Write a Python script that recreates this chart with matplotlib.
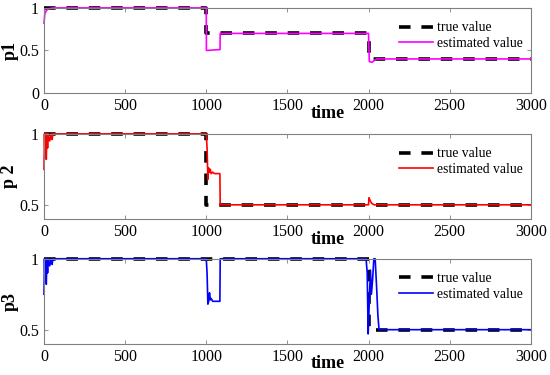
import matplotlib
matplotlib.use("Agg")
import matplotlib.pyplot as plt

plt.rcParams['font.family'] = ['Liberation Serif', 'DejaVu Serif']

# --- datos ---
true1_t = [0, 1000, 1000, 2000, 2000, 3000]
true1_v = [1.0, 1.0, 0.7, 0.7, 0.4, 0.4]
est1_t = [0, 5, 15, 30, 60, 1000, 1001, 1085, 1086, 2000, 2005, 2020, 2035, 2050, 3000]
est1_v = [0.82, 0.93, 0.97, 0.99, 1.0, 1.0, 0.5, 0.51, 0.7, 0.7, 0.37, 0.36, 0.38, 0.4, 0.4]

true2_t = [0, 1000, 1000, 3000]
true2_v = [1.0, 1.0, 0.5, 0.5]
est2_t = [0, 3, 6, 10, 14, 18, 22, 26, 35, 45, 50, 55, 60, 1000, 1005, 1010,
          1015, 1020, 1025, 1030, 1040, 1050, 1060, 1084, 1086, 1995, 2000,
          2003, 2010, 2020, 2035, 3000]
est2_v = [0.75, 1.0, 0.85, 1.0, 0.82, 1.0, 0.9, 1.0, 0.95, 1.0, 0.96, 1.0, 1.0,
          1.0, 0.9, 0.68, 0.76, 0.73, 0.75, 0.72, 0.73, 0.72, 0.72, 0.72, 0.5,
          0.5, 0.5, 0.55, 0.53, 0.51, 0.5, 0.5]

true3_t = [0, 2000, 2000, 3000]
true3_v = [1.0, 1.0, 0.5, 0.5]
est3_t = [0, 3, 6, 10, 14, 18, 22, 26, 35, 45, 50, 55, 60, 995, 1000, 1005,
          1010, 1015, 1020, 1025, 1030, 1040, 1084, 1086, 1985, 1992, 1998,
          2005, 2012, 2018, 2025, 2033, 2041, 2050, 2058, 2065, 3000]
est3_v = [0.75, 1.0, 0.85, 1.0, 0.82, 1.0, 0.9, 1.0, 0.95, 1.0, 0.96, 1.0, 1.0,
          1.0, 1.0, 0.9, 0.68, 0.7, 0.76, 0.71, 0.72, 0.7, 0.7, 1.0, 1.0, 0.9,
          0.47, 0.7, 0.92, 0.75, 0.85, 1.0, 1.0, 0.8, 0.6, 0.5, 0.5]

paneles = [
    ("p1", true1_t, true1_v, est1_t, est1_v, '#ff00ff', (0, 1), [0, 0.5, 1], ['0', '0.5', '1']),
    ("p 2", true2_t, true2_v, est2_t, est2_v, '#ff0000', (0.4, 1), [0.5, 1], ['0.5', '1']),
    ("p3", true3_t, true3_v, est3_t, est3_v, '#0000ff', (0.4, 1), [0.5, 1], ['0.5', '1']),
]
xticks = [0, 500, 1000, 1500, 2000, 2500, 3000]

fig = plt.figure(figsize=(5.5, 3.75), dpi=100)
posiciones = [0.752, 0.416, 0.083]
gris = '#808080'

for (nombre, tt, tv, et, ev, color, ylim, yt, ytl), fondo in zip(paneles, posiciones):
    ax = fig.add_axes([0.08, fondo, 0.885, 0.227])
    ax.plot(tt, tv, color='black', linewidth=2.6, dashes=(3.2, 3.0),
            label='true value', clip_on=False)
    ax.plot(et, ev, color=color, linewidth=1.2, label='estimated value', clip_on=False)
    ax.set_xlim(0, 3000)
    ax.set_ylim(*ylim)
    ax.set_xticks(xticks)
    ax.set_yticks(yt)
    ax.set_yticklabels(ytl)
    ax.tick_params(direction='in', top=True, right=True, colors=gris,
                   labelcolor='black', labelsize=11.5, length=3, width=0.6)
    for s in ax.spines.values():
        s.set_color(gris)
        s.set_linewidth(0.8)
    # etiqueta del eje y, un poco a la izquierda de los numeros
    ax.text(-0.07, 0.5, nombre, transform=ax.transAxes, rotation=90,
            ha='center', va='center', fontsize=13, fontweight='bold')
    ax.text(0.583, -0.235, 'time', transform=ax.transAxes, ha='center',
            va='center', fontsize=13, fontweight='bold')
    ax.legend(loc='upper right', frameon=False, fontsize=9.8, handlelength=2.5,
              handletextpad=0.25, labelspacing=0.2, borderaxespad=0.4,
              bbox_to_anchor=(1.005, 0.97))

fig.savefig('out.png', dpi=100)
